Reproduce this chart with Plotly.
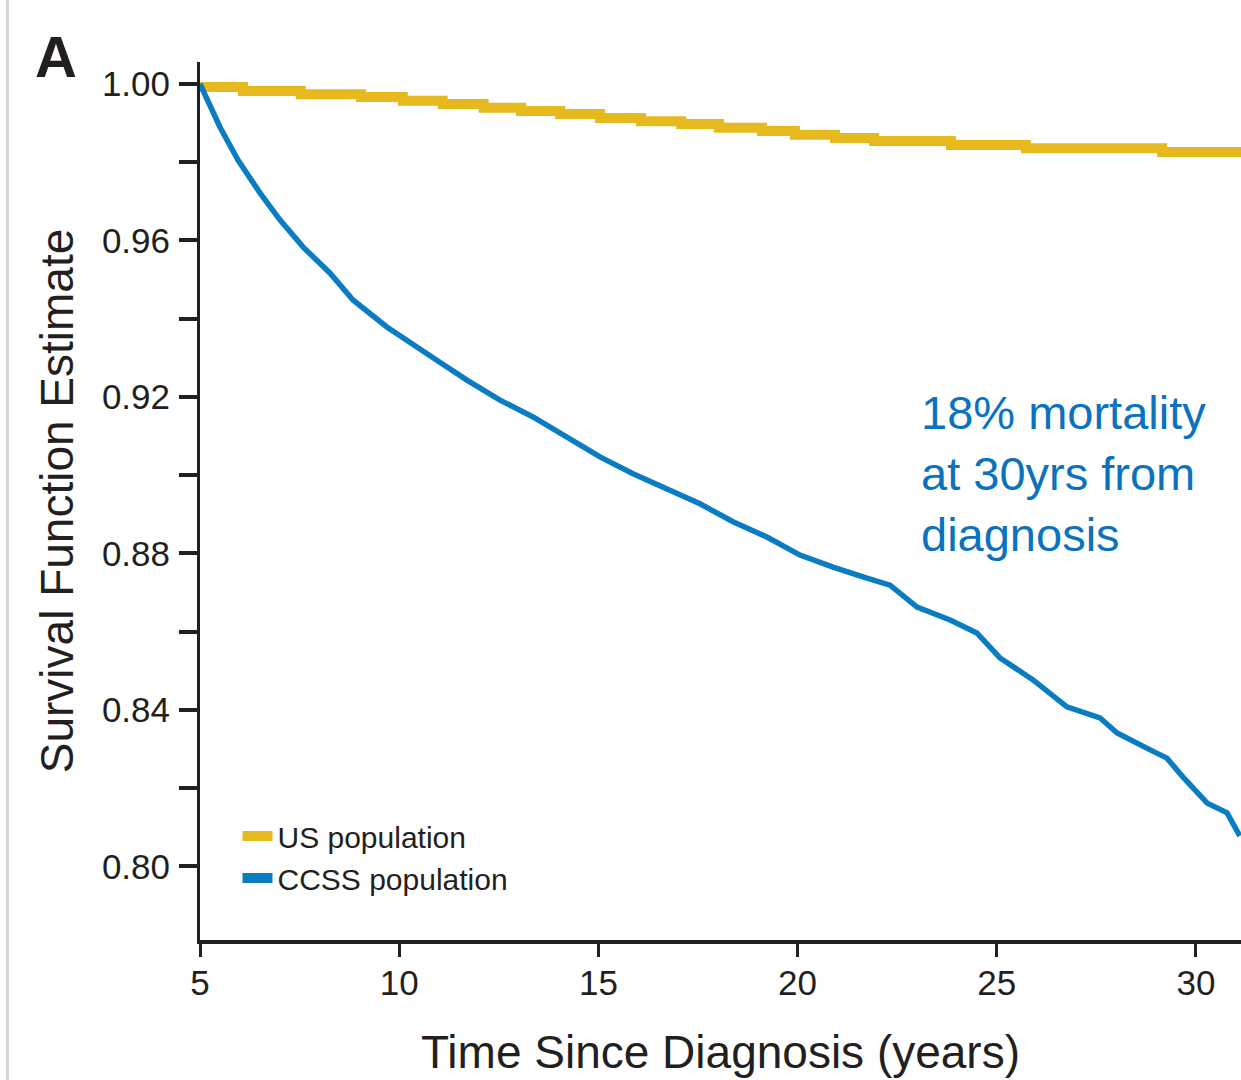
import plotly.graph_objects as go

# ---- data ----
us_years = [5.00, 6.08, 7.53, 9.04, 10.09, 11.09, 12.12, 13.06, 14.04, 15.04, 16.07,
            17.08, 18.03, 19.11, 19.93, 20.94, 21.92, 23.85, 25.73, 29.15, 31.13]
us_surv = [0.9992, 0.9982, 0.9974, 0.9967, 0.9957, 0.9949, 0.9939, 0.9931, 0.9923, 0.9913,
           0.9905, 0.9898, 0.9888, 0.9880, 0.9870, 0.9862, 0.9854, 0.9844, 0.9836, 0.9826, 0.9826]

ccss_years = [5.00, 5.50, 5.95, 6.51, 7.01, 7.59, 8.26, 8.84, 9.69, 10.27, 11.02, 11.70,
              12.53, 13.36, 14.21, 15.04, 15.87, 16.72, 17.55, 18.38, 19.23, 20.06, 20.89,
              21.74, 22.32, 23.00, 23.83, 24.50, 25.08, 25.91, 26.76, 27.59, 28.02, 28.85,
              29.27, 29.67, 30.28, 30.78, 31.10]
ccss_surv = [1.0000, 0.9890, 0.9806, 0.9721, 0.9652, 0.9583, 0.9517, 0.9448, 0.9379, 0.9338,
             0.9289, 0.9243, 0.9192, 0.9149, 0.9098, 0.9047, 0.9004, 0.8966, 0.8927, 0.8881,
             0.8842, 0.8796, 0.8765, 0.8737, 0.8719, 0.8663, 0.8630, 0.8597, 0.8533, 0.8477,
             0.8408, 0.8380, 0.8341, 0.8298, 0.8277, 0.8229, 0.8162, 0.8137, 0.8078]

series_names = ["US population", "CCSS population"]
y_tick_vals = [0.80, 0.82, 0.84, 0.86, 0.88, 0.90, 0.92, 0.94, 0.96, 0.98, 1.00]
y_tick_text = ["0.80", "", "0.84", "", "0.88", "", "0.92", "", "0.96", "", "1.00"]
x_tick_vals = [5, 10, 15, 20, 25, 30]

YELLOW = "#E6B91E"
BLUE = "#0A7DC2"
INK = "#231F20"
SANS = "Liberation Sans, Arial, sans-serif"

fig = go.Figure()
fig.add_trace(go.Scatter(x=us_years, y=us_surv, mode="lines", line=dict(color=YELLOW, width=10, shape="hv"),
                         showlegend=False, hoverinfo="skip"))
fig.add_trace(go.Scatter(x=ccss_years, y=ccss_surv, mode="lines", line=dict(color=BLUE, width=5.5),
                         showlegend=False, hoverinfo="skip"))
# legend entries
for name, col in zip(series_names, [YELLOW, BLUE]):
    fig.add_trace(go.Scatter(x=[None], y=[None], mode="lines", name=name,
                             line=dict(color=col, width=13)))

fig.update_layout(
    width=1241, height=1080,
    margin=dict(l=200, r=0, t=62, b=140),
    paper_bgcolor="white", plot_bgcolor="white",
    font=dict(family=SANS, color=INK),
    legend=dict(x=0.036, y=0.148, xanchor="left", yanchor="top", bgcolor="rgba(0,0,0,0)",
                font=dict(size=30, family=SANS, color=INK), itemwidth=30, tracegroupgap=0),
    xaxis=dict(range=[5, 31.13], tickvals=x_tick_vals, showgrid=False, zeroline=False,
               showline=True, linecolor=INK, linewidth=4, ticks="outside", ticklen=13,
               tickwidth=3, tickcolor=INK, tickfont=dict(size=35, family=SANS, color=INK),
               ticklabelstandoff=-4,
               title=dict(text="Time Since Diagnosis (years)", font=dict(size=46, family=SANS, color=INK),
                          standoff=36)),
    yaxis=dict(range=[0.78121, 1.00562], tickvals=y_tick_vals, ticktext=y_tick_text, showgrid=False,
               zeroline=False, showline=True, linecolor=INK, linewidth=3, ticks="outside", ticklen=18,
               tickwidth=4, tickcolor=INK, tickfont=dict(size=35, family=SANS, color=INK),
               ticklabelstandoff=2,
               title=dict(text="Survival Function Estimate", font=dict(size=46, family=SANS, color=INK),
                          standoff=14)),
)

fig.add_annotation(text="18% mortality<br>at 30yrs from<br>diagnosis", xref="paper", yref="paper",
                   x=(919 - 200) / 1041, y=(940 - 384) / 878, xanchor="left", yanchor="top", align="left",
                   showarrow=False, font=dict(size=47, family=SANS, color="#0A72BE"))
fig.add_annotation(text="<b>A</b>", xref="paper", yref="paper", x=(33 - 200) / 1041, y=(940 - 22) / 878,
                   xanchor="left", yanchor="top", showarrow=False,
                   font=dict(size=58, family=SANS, color=INK))
fig.add_shape(type="line", xref="paper", yref="paper", x0=(7.5 - 200) / 1041, x1=(7.5 - 200) / 1041,
              y0=(940 - 0) / 878, y1=(940 - 1080) / 878, line=dict(color="#D6D6D6", width=3))

fig.write_html("out.html", config={"displayModeBar": False},
               post_script="document.body.style.margin='0px';")
